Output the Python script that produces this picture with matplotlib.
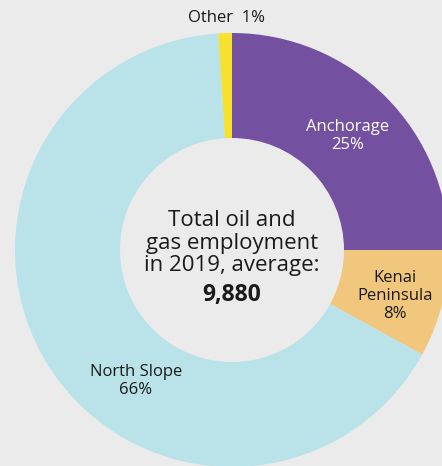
import matplotlib.pyplot as plt

regions = ["Anchorage", "Kenai\nPeninsula", "North Slope", "Other"]
shares = [25, 8, 66, 1]
colors = ["#7450a0", "#f1c67d", "#b9e3e8", "#f5e12e"]
total_jobs = "9,880"

plt.rcParams['font.family'] = ['Open Sans', 'DejaVu Sans']

fig = plt.figure(figsize=(4.42, 4.66), dpi=100)
fig.patch.set_facecolor("#ebebeb")
ax = fig.add_axes([0, 0, 1, 1])
ax.set_facecolor("#ebebeb")

# work in pixel units, y up
cx, cy, r = 232, 466 - 250, 217
ax.pie(shares, colors=colors, startangle=90, counterclock=False,
       radius=r, center=(cx, cy), wedgeprops=dict(width=r - 112, linewidth=0))
ax.set_xlim(0, 442)
ax.set_ylim(0, 466)
ax.set_aspect("equal")
ax.axis("off")

dark = "#1a1a1a"
# slice labels
ax.text(348, 466 - 136, "Anchorage\n25%", ha="center", va="center",
        fontsize=12, color="white", linespacing=1.15)
ax.text(395, 466 - 296, "Kenai\nPeninsula\n8%", ha="center", va="center",
        fontsize=12, color=dark, linespacing=1.15)
ax.text(136, 466 - 381, "North Slope\n66%", ha="center", va="center",
        fontsize=12, color=dark, linespacing=1.15)
ax.text(227, 466 - 18, "Other  1%", ha="center", va="center",
        fontsize=12, color=dark)

# centre text
ax.text(cx, 466 - 243, "Total oil and\ngas employment\nin 2019, average:",
        ha="center", va="center", fontsize=16, color=dark, linespacing=1.12)
ax.text(cx, 466 - 295, total_jobs, ha="center", va="center",
        fontsize=16.5, fontweight="bold", color=dark)

fig.savefig("out.png", dpi=100, facecolor=fig.get_facecolor())
